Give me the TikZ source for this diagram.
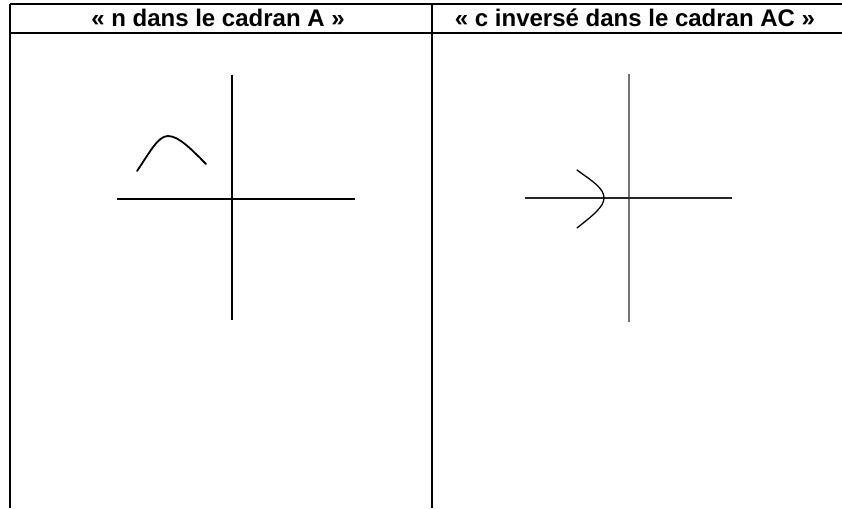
\documentclass[tikz,border=0pt]{standalone}
\usepackage{fontspec}
\setmainfont{Liberation Sans}
\tikzset{
  grid line/.style={line width=2.1pt, black},
  axisA/.style={line width=1.9pt, black},
  axisB/.style={line width=1.3pt, black!85},
  axisBv/.style={line width=1.3pt, black!55},
  curve/.style={line width=1.8pt, black, line cap=round},
  head/.style={font=\fontsize{24}{28}\selectfont\bfseries, anchor=base, inner sep=0pt}
}
\begin{document}
\begin{tikzpicture}[x=1pt,y=-1pt]
\useasboundingbox (0,0) rectangle (842,508);
% table
\draw[grid line] (10,4) -- (842,4);
\draw[grid line] (10,33) -- (842,33);
\draw[grid line] (10,4) -- (10,508);
\draw[grid line] (432,4) -- (432,508);
% headers
\node[head] (hA) at (218,27) {« n dans le cadran A »};
\node[head] (hB) at (635,27) {« c inversé dans le cadran AC »};
% left axes
\draw[axisA] (232,75) -- (232,320);
\draw[axisA] (117,199) -- (355,199);
\draw[curve] (137,171) .. controls (150,152) and (158,136) .. (168,136)
  .. controls (179,136) and (192,150) .. (206,164);
% right axes
\draw[axisBv] (629,74) -- (629,322);
\draw[axisB] (525,198) -- (732,198);
\draw[line width=1.3pt, black, line cap=round] (577,170) .. controls (592,181) and (604,188) .. (604,198)
  .. controls (604,207) and (592,216) .. (577,228);
\end{tikzpicture}
\end{document}
